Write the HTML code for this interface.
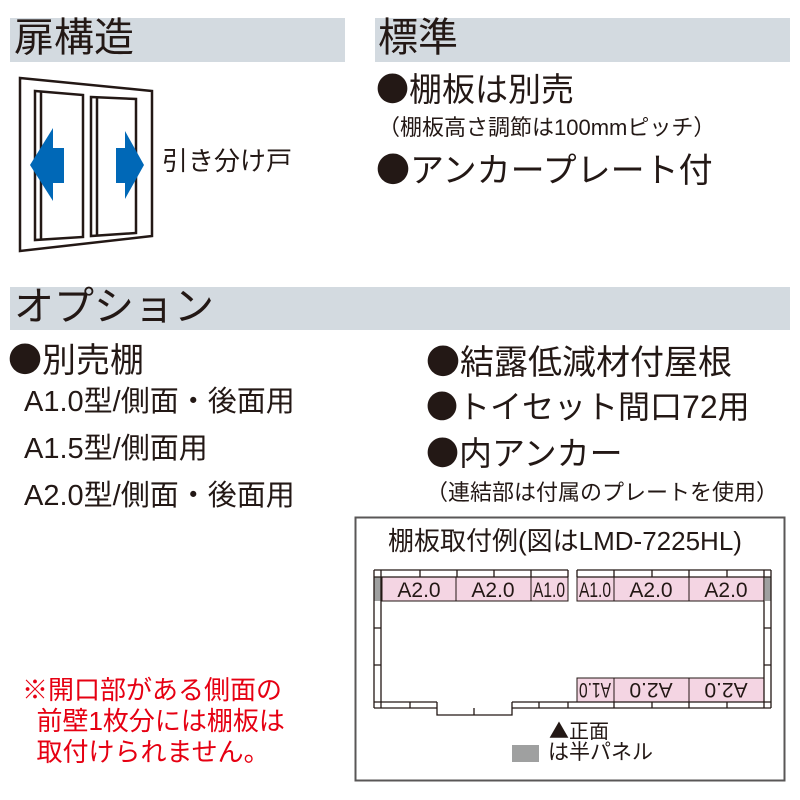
<!DOCTYPE html>
<html><head><meta charset="utf-8"><style>
body{margin:0;width:800px;height:800px;background:#fff;overflow:hidden;font-family:"Liberation Sans","Noto Sans CJK JP",sans-serif;color:#231815;position:relative}
.t{position:absolute;white-space:nowrap;line-height:1.2}
.b{font-family:"Noto Sans CJK JP",sans-serif}
.bar{position:absolute;background:#d3dae0}
</style></head><body>
<div class="bar" style="left:10px;top:18px;width:335px;height:44px"></div>
<div class="bar" style="left:375px;top:18px;width:415px;height:44px"></div>
<div class="bar" style="left:10px;top:287px;width:780px;height:43px"></div>
<div class="t" style="left:14px;top:14px;font-size:40px">扉構造</div>
<div class="t" style="left:378px;top:14px;font-size:40px">標準</div>
<div class="t" style="left:14px;top:283px;font-size:40px">オプション</div>
<div class="t" style="left:376px;top:68px;font-size:33px"><span class="b">●</span>棚板は別売</div>
<div class="t" style="left:378px;top:115px;font-size:22px">（棚板高さ調節は100mmピッチ）</div>
<div class="t" style="left:376px;top:148px;font-size:34px"><span class="b">●</span>アンカープレート付</div>
<div class="t" style="left:162px;top:146px;font-size:26px">引き分け戸</div>
<div class="t" style="left:8px;top:338px;font-size:34px"><span class="b">●</span>別売棚</div>
<div class="t" style="left:24px;top:385px;font-size:29px">A1.0型/側面・後面用</div>
<div class="t" style="left:24px;top:432px;font-size:29px">A1.5型/側面用</div>
<div class="t" style="left:24px;top:479px;font-size:29px">A2.0型/側面・後面用</div>
<div class="t" style="left:426px;top:340px;font-size:34px"><span class="b">●</span>結露低減材付屋根</div>
<div class="t" style="left:426px;top:386px;font-size:32px"><span class="b">●</span>トイセット間口72用</div>
<div class="t" style="left:426px;top:432px;font-size:33px"><span class="b">●</span>内アンカー</div>
<div class="t" style="left:426px;top:480px;font-size:22px">（連結部は付属のプレートを使用）</div>
<div class="t" style="left:22px;top:675px;font-size:26px;color:#e60012;line-height:31px">※開口部がある側面の<br>&nbsp;&nbsp;前壁1枚分には棚板は<br>&nbsp;&nbsp;取付けられません。</div>
<svg style="position:absolute;left:0;top:0" width="800" height="800">
<g fill="none" stroke="#231815" stroke-width="2.5">
<polygon points="20,78 152,91 152,236 20,251"/>
<polygon points="35,91 83,95 83,237 35,240"/>
<line x1="41" y1="91" x2="41" y2="240"/>
<polygon points="91,97 136,99 136,233 91,236"/>
<line x1="97" y1="97" x2="97" y2="236"/>
</g>
<polygon fill="#0068b7" points="30,165 53,128 53,148 64,148 64,183 53,183 53,201" />
<polygon fill="#0068b7" points="144,165 125,131 125,148 116,148 116,183 125,183 125,199"/>
<rect x="355.5" y="517.5" width="429" height="263" fill="none" stroke="#595757" stroke-width="2"/>
<g fill="#f4d5e3" stroke="#231815" stroke-width="1">
<rect x="382" y="577" width="74" height="24"/><rect x="456" y="577" width="75" height="24"/><rect x="531" y="577" width="37" height="24"/>
<rect x="577" y="577" width="37" height="24"/><rect x="614" y="577" width="75" height="24"/><rect x="689" y="577" width="75" height="24"/>
<rect x="577" y="678" width="37" height="24"/><rect x="614" y="678" width="75" height="24"/><rect x="689" y="678" width="75" height="24"/>
</g>
<rect x="374" y="577" width="7" height="24" fill="#9fa0a0"/><rect x="765" y="577" width="6" height="24" fill="#9fa0a0"/>
<g fill="none" stroke="#231815" stroke-width="1.3">
<path d="M374,570 H568 M577,570 H771 M374,577 H568 M577,577 H771 M568,570 V577 M577,570 V577"/>
<path d="M374,570 V708 M381,570 V708 M771,570 V708 M764,570 V708"/>
<path d="M374,702 H437 M512,702 H771 M374,708 H437 V715 H512 V708 H771 M437,708 V702 M512,708 V702"/>
<path d="M420,570 V577 M457,570 V577 M494,570 V577 M531,570 V577 M614,570 V577 M652,570 V577 M689,570 V577 M727,570 V577"/>
<path d="M374,628 H381 M374,665 H381 M764,628 H771 M764,665 H771"/>
<path d="M410,702 V708 M474,708 V715 M539,702 V708 M568,702 V708 M614,702 V708 M652,702 V708 M689,702 V708 M727,702 V708"/>
</g>
<g font-size="21" fill="#231815" text-anchor="middle" font-family="Liberation Sans,sans-serif">
<text x="419" y="597">A2.0</text><text x="493" y="597">A2.0</text><text x="549" y="597" textLength="32" lengthAdjust="spacingAndGlyphs">A1.0</text>
<text x="595" y="597" textLength="32" lengthAdjust="spacingAndGlyphs">A1.0</text><text x="651" y="597">A2.0</text><text x="726" y="597">A2.0</text>
<g transform="rotate(180 595 690)"><text x="595" y="697" textLength="32" lengthAdjust="spacingAndGlyphs">A1.0</text></g>
<g transform="rotate(180 651 690)"><text x="651" y="697">A2.0</text></g>
<g transform="rotate(180 726 690)"><text x="726" y="697">A2.0</text></g>
</g>
<rect x="512" y="745" width="27" height="17" fill="#9fa0a0"/>
</svg>
<div class="t" style="left:388px;top:526px;font-size:26px">棚板取付例(図はLMD-7225HL)</div>
<div class="t" style="left:549px;top:718px;font-size:20px"><span class="b">▲</span>正面</div>
<div class="t" style="left:548px;top:740px;font-size:21px">は半パネル</div>
</body></html>
